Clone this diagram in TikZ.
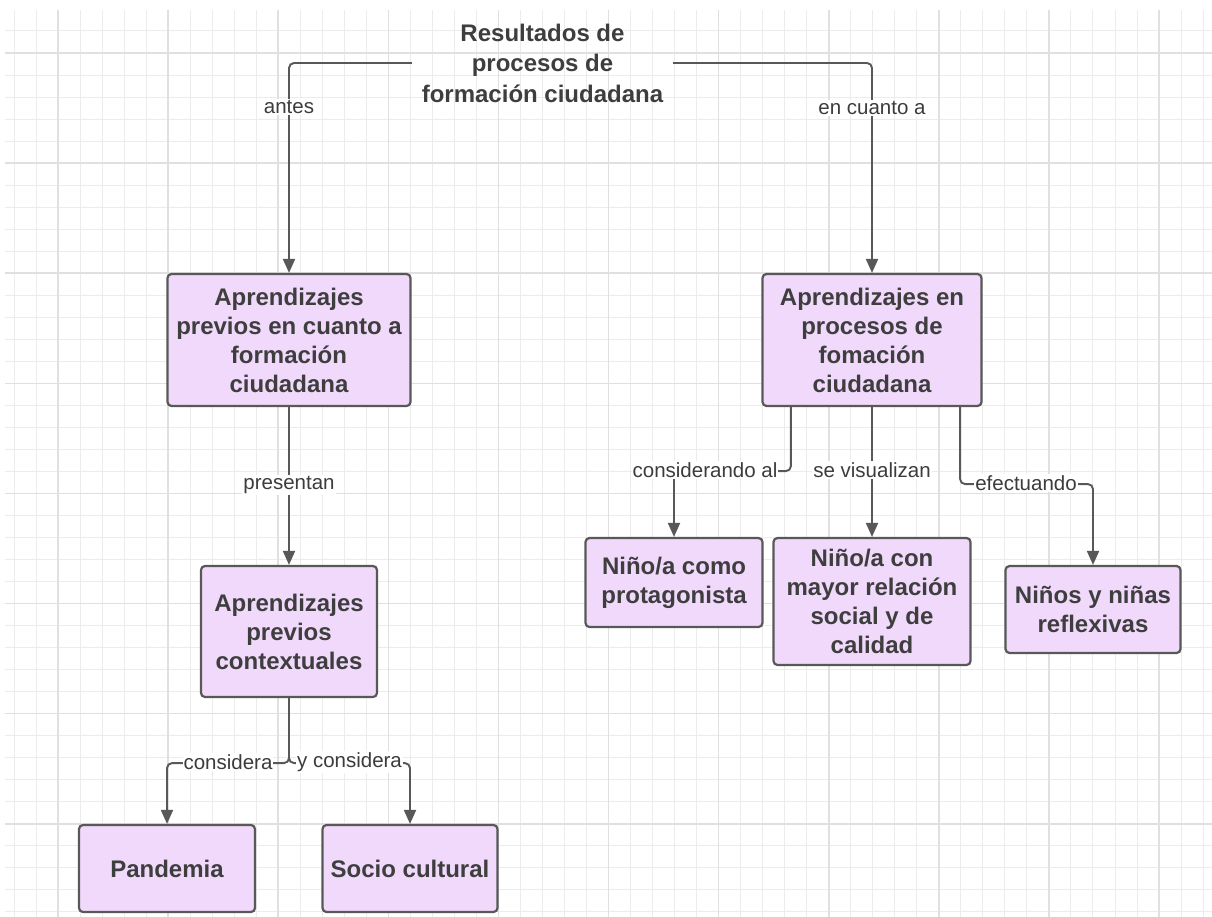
\documentclass[tikz,border=0pt]{standalone}
\usepackage{fontspec}
\setmainfont{Liberation Sans}
\usetikzlibrary{arrows.meta}
\definecolor{boxfill}{RGB}{241,217,251}
\definecolor{boxline}{RGB}{88,88,88}
\definecolor{txt}{RGB}{62,62,62}
\definecolor{lbltxt}{RGB}{60,60,60}
\definecolor{gminor}{RGB}{236,236,236}
\definecolor{gmajor}{RGB}{224,224,224}
\begin{document}
\begin{tikzpicture}[x=1pt,y=-1pt,
  box/.style={draw=boxline, line width=2.2pt, fill=boxfill, rounded corners=4pt, text=txt,
    font=\bfseries\fontsize{24}{29}\selectfont, align=center, inner sep=0pt},
  conn/.style={draw=boxline, line width=1.9pt, rounded corners=5pt, -{Triangle[length=14pt,width=12pt]}},
  lbl/.style={fill=white, text=lbltxt, font=\fontsize{20.5}{23}\selectfont, inner sep=1pt},
  gridminor/.style={draw=gminor, line width=1pt},
  gridmajor/.style={draw=gmajor, line width=1.6pt}]
\useasboundingbox (0,0) rectangle (1212,917);
\fill[white] (0,0) rectangle (1212,917);
% grid
\foreach \k in {0,...,54} \draw[gridminor] ({14+22.02*\k},10) -- ({14+22.02*\k},917);
\foreach \k in {0,...,40} \draw[gridminor] (5,{31+22.02*\k}) -- (1212,{31+22.02*\k});
\foreach \k in {0,...,10} \draw[gridmajor] ({58+110.1*\k},10) -- ({58+110.1*\k},917);
\foreach \k in {0,...,7} \draw[gridmajor] (5,{53+110.1*\k}) -- (1212,{53+110.1*\k});

% nodes
\node[font=\bfseries\fontsize{24}{30.5}\selectfont, text=txt, align=center, minimum width=261pt, inner sep=0pt] (title) at (542.5,63) {Resultados de\\procesos de\\formación ciudadana};
\node[box, minimum width=243pt, minimum height=132pt] (A) at (289,340) {Aprendizajes\\previos en cuanto a\\formación\\ciudadana};
\node[box, minimum width=219pt, minimum height=132pt] (B) at (872,340) {Aprendizajes en\\procesos de\\fomación\\ciudadana};
\node[box, minimum width=176pt, minimum height=131pt] (C) at (289,631.5) {Aprendizajes\\previos\\contextuales};
\node[box, minimum width=176pt, minimum height=87pt] (P) at (167,868.5) {Pandemia};
\node[box, minimum width=175pt, minimum height=87pt] (S) at (410,868.5) {Socio cultural};
\node[box, minimum width=177pt, minimum height=89pt] (D) at (674,582.5) {Niño/a como\\protagonista};
\node[box, minimum width=197pt, minimum height=127pt] (E) at (872,601.5) {Niño/a con\\mayor relación\\social y de\\calidad};
\node[box, minimum width=175pt, minimum height=87pt] (F) at (1093,609.5) {Niños y niñas\\reflexivas};

% connectors
\draw[conn] (title.west) -| (A.north);
\draw[conn] (title.east) -| (B.north);
\draw[conn] (A.south) -- (C.north);
\draw[conn] ([xshift=29.5pt]B.south west) -- ++(0,64) -| (D.north);
\draw[conn] (B.south) -- (E.north);
\draw[conn] ([xshift=-22.5pt]B.south east) -- ++(0,77) -| (F.north);
\draw[conn] (C.south) -- ++(0,65) -| (P.north);
\draw[conn] (C.south) -- ++(0,65) -| (S.north);

% labels
\node[lbl] (l1) at (289,107) {antes};
\node[lbl] (l2) at (872,108) {en cuanto a};
\node[lbl] (l3) at (289,485) {presentan};
\node[lbl] (l4) at (705,470) {considerando al};
\node[lbl] (l5) at (872,470) {se visualizan};
\node[lbl] (l6) at (1026,483) {efectuando};
\node[lbl] (l7) at (228,762) {considera};
\node[lbl] (l8) at (349.5,762) {y considera};
\end{tikzpicture}
\end{document}
